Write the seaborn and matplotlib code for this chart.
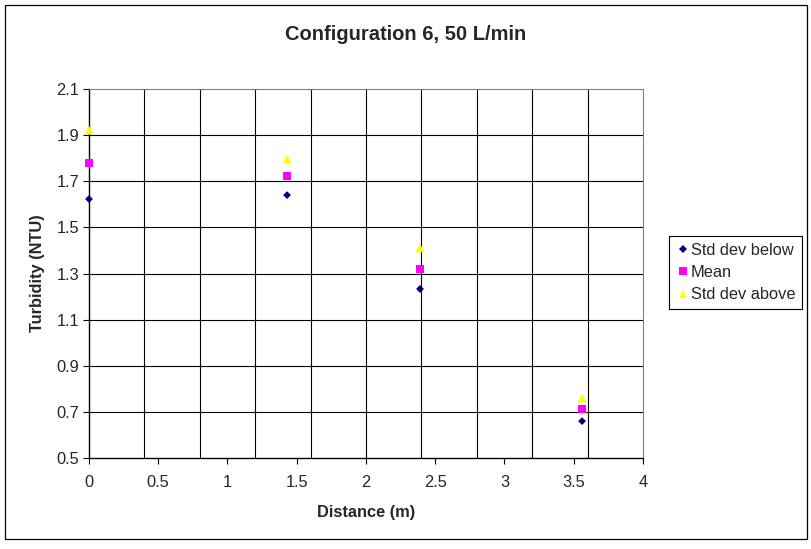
import pandas as pd
import matplotlib
matplotlib.use("Agg")
import matplotlib.pyplot as plt
from matplotlib.patches import Rectangle
import seaborn as sns

# data
distance = [0.0, 1.43, 2.39, 3.56]
std_below = [1.623, 1.640, 1.233, 0.660]
mean_vals = [1.779, 1.723, 1.320, 0.712]
std_above = [1.922, 1.797, 1.411, 0.760]
series_names = ["Std dev below", "Mean", "Std dev above"]

df = pd.DataFrame({
    "distance": distance * 3,
    "turbidity": std_below + mean_vals + std_above,
    "series": [series_names[0]] * 4 + [series_names[1]] * 4 + [series_names[2]] * 4,
})

sns.set_style("white")
plt.rcParams["font.family"] = ["Liberation Sans", "DejaVu Sans"]

fig = plt.figure(figsize=(8.12, 5.49), dpi=100)
ax = fig.add_axes([89 / 812, 91 / 549, 554 / 812, 369 / 549])

sns.scatterplot(
    data=df, x="distance", y="turbidity", hue="series", style="series", size="series",
    palette={"Std dev below": "#000080", "Mean": "#FF00FF", "Std dev above": "#FFFF00"},
    markers={"Std dev below": "D", "Mean": "s", "Std dev above": "^"},
    sizes={"Std dev below": 16, "Mean": 30, "Std dev above": 40},
    edgecolor="none", ax=ax, zorder=3, clip_on=False,
)

ax.set_xlim(0, 4)
ax.set_ylim(0.5, 2.1)
ax.set_xticks([0, 0.5, 1, 1.5, 2, 2.5, 3, 3.5, 4])
ax.set_xticklabels(["0", "0.5", "1", "1.5", "2", "2.5", "3", "3.5", "4"])
ax.set_yticks([0.5, 0.7, 0.9, 1.1, 1.3, 1.5, 1.7, 1.9, 2.1])
ax.set_yticklabels(["0.5", "0.7", "0.9", "1.1", "1.3", "1.5", "1.7", "1.9", "2.1"])
ax.tick_params(axis="both", direction="out", length=4, width=0.8, color="black",
               labelsize=11.8, bottom=True, left=True)
ax.tick_params(axis="x", pad=8)
ax.tick_params(axis="y", pad=3)

# Excel-style gridlines: vertical every 0.4, horizontal every 0.2
for gx in [0.4, 0.8, 1.2, 1.6, 2.0, 2.4, 2.8, 3.2, 3.6]:
    ax.axvline(gx, color="black", lw=0.8, zorder=1)
for gy in [0.7, 0.9, 1.1, 1.3, 1.5, 1.7, 1.9]:
    ax.axhline(gy, color="black", lw=0.8, zorder=1)

for side in ["left", "bottom"]:
    ax.spines[side].set_color("black")
    ax.spines[side].set_linewidth(1.0)
for side in ["top", "right"]:
    ax.spines[side].set_color("#808080")
    ax.spines[side].set_linewidth(0.8)

ax.set_xlabel("Distance (m)", fontsize=11.8, fontweight="bold", labelpad=11)
ax.set_ylabel("Turbidity (NTU)", fontsize=11.8, fontweight="bold", labelpad=8)

fig.text(0.5, 1 - 34 / 549, "Configuration 6, 50 L/min", ha="center", va="center",
         fontsize=14.5, fontweight="bold")

handles, labels = ax.get_legend_handles_labels()
leg = ax.legend(handles, labels, loc="upper left", bbox_to_anchor=(669 / 812, 1 - 236 / 549),
                bbox_transform=fig.transFigure, borderaxespad=0, fancybox=False,
                edgecolor="black", fontsize=11.8, handletextpad=0.05, handlelength=0.9,
                labelspacing=0.45, borderpad=0.4, framealpha=1)
leg.get_frame().set_linewidth(0.8)

fig.patches.append(Rectangle((5 / 812, 10 / 549), 802 / 812, 534 / 549, transform=fig.transFigure,
                             fill=False, edgecolor="black", lw=0.9))

fig.savefig("out.png", dpi=100)
